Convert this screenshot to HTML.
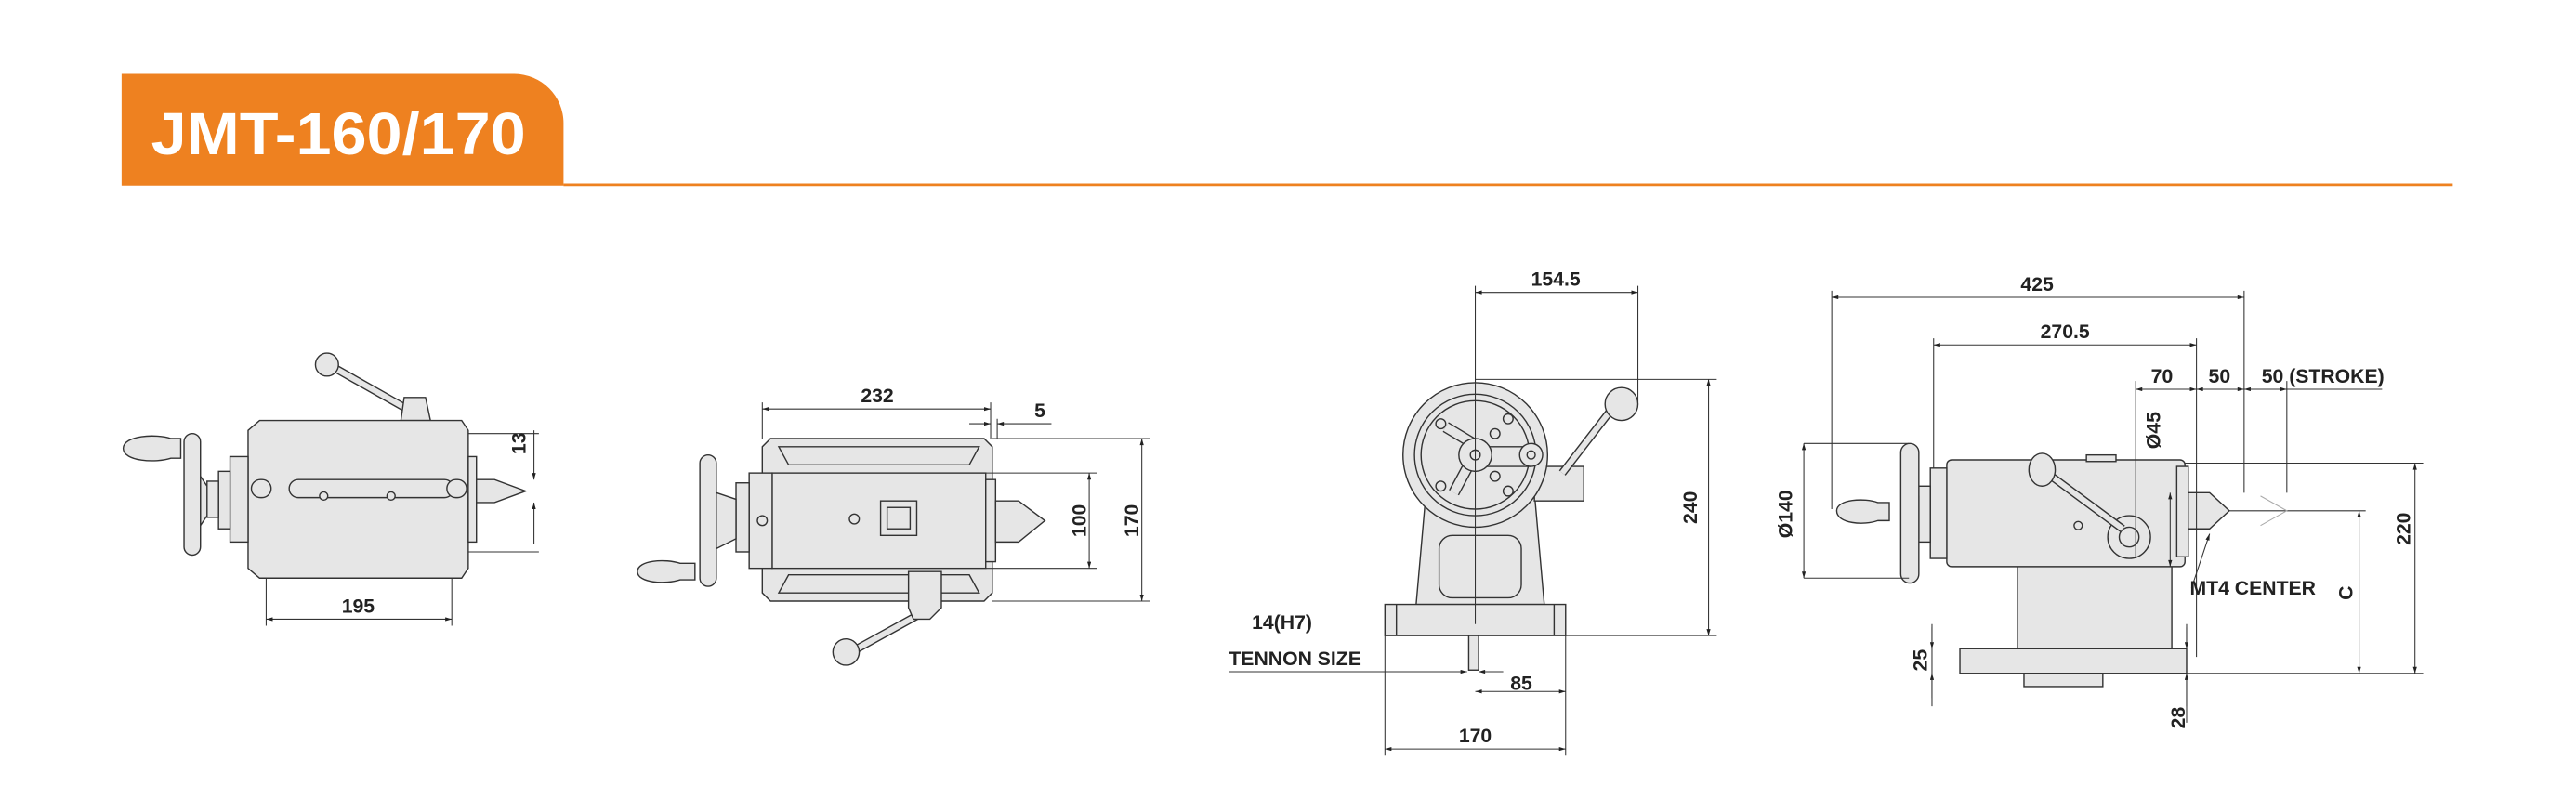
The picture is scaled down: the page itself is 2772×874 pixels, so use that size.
<!DOCTYPE html>
<html><head><meta charset="utf-8"><style>
html,body{margin:0;padding:0;background:#fff;width:2772px;height:874px;overflow:hidden}
svg{display:block}
text{font-family:"Liberation Sans",sans-serif;font-weight:bold;fill:#222}
</style></head><body>
<svg width="2772" height="874" viewBox="0 0 1568 494.4" xmlns="http://www.w3.org/2000/svg">
<defs>
<marker id="a" viewBox="0 0 10 6" refX="10" refY="3" markerWidth="7" markerHeight="4" orient="auto-start-reverse"><path d="M0,0L10,3L0,6z" fill="#222"/></marker>
</defs>
<!-- header -->
<path d="M74,45 H313 A30,30 0 0 1 343,75 V113 H74 Z" fill="#ee8120"/>
<line x1="343" y1="112.5" x2="1493" y2="112.5" stroke="#ee8120" stroke-width="1.5"/>
<text x="92" y="94" font-size="36" textLength="228" lengthAdjust="spacingAndGlyphs" style="fill:#fff">JMT-160/170</text>

<g stroke="#333" stroke-width="0.8" fill="#e6e6e6">
<!-- VIEW 1 -->
<path d="M200,222 L246,248" stroke-width="5" stroke="#333"/><path d="M200,222 L246,248" stroke-width="3.4" stroke="#e6e6e6"/>
<circle cx="199" cy="222" r="7"/>
<path d="M244,256 L246,242 H259 L262,256 Z"/>
<path d="M158,256 H281 L285,262 V346 L281,352 H158 L151,346 V262 Z"/>
<rect x="140" y="278" width="11" height="52"/>
<rect x="133" y="287" width="7" height="35"/>
<rect x="126" y="293" width="7" height="22"/>
<path d="M122,290 L126,296 V314 L122,320 Z"/>
<rect x="112" y="264" width="10" height="74" rx="5"/>
<path d="M75,273 C75,265 95,264 104,267 L110,267 V279 L104,279 C95,282 75,281 75,273Z"/>
<rect x="285" y="278" width="5" height="52"/>
<path d="M290,292 H301 L320,299 L301,306 H290 Z"/>
<rect x="176" y="292" width="100" height="11" rx="5.5"/>
<rect x="153" y="292" width="12" height="11" rx="5.5"/><rect x="272" y="292" width="12" height="11" rx="5.5"/>
<circle cx="197" cy="302" r="2.5"/><circle cx="238" cy="302" r="2.5"/>
<!-- VIEW 2 -->
<path d="M469,267 H599 L604,272 V361 L599,366 H469 L464,361 V272 Z"/>
<path d="M474,272 H596 L590,283 H480 Z"/><path d="M474,361 H596 L590,350 H480 Z"/>
<rect x="470" y="288" width="130" height="58"/>
<rect x="456" y="288" width="14" height="58"/>
<rect x="448" y="294" width="8" height="42"/>
<path d="M436,300 L448,304 V328 L436,334 Z"/>
<rect x="426" y="277" width="10" height="80" rx="5"/>
<path d="M388,348 C388,341 405,340 414,343 L423,343 V353 L414,353 C405,356 388,355 388,348Z"/>
<rect x="600" y="292" width="6" height="50"/>
<path d="M606,305 H620 L636,317 L620,330 H606 Z"/>
<rect x="536" y="305" width="22" height="21"/><rect x="540" y="309" width="14" height="13"/>
<circle cx="520" cy="316" r="3"/><circle cx="464" cy="317" r="3"/>
<path d="M558,375 L518,397" stroke-width="5"/><path d="M558,375 L518,397" stroke-width="3.4" stroke="#e6e6e6"/>
<circle cx="515" cy="397" r="8"/>
<path d="M553,348 H573 V370 L566,377 H556 L553,370 Z"/>
<!-- VIEW 3 -->
<path d="M868,300 L862,368 H940 L934,300 Z"/>
<rect x="876" y="326" width="50" height="38" rx="8"/>
<rect x="843" y="368" width="110" height="19"/>
<line x1="850" y1="368" x2="850" y2="387"/><line x1="946" y1="368" x2="946" y2="387"/>
<rect x="894" y="387" width="6" height="21"/>
<rect x="934" y="284" width="30" height="21"/>
<path d="M951,288 L985,244" stroke-width="5"/><path d="M951,288 L985,244" stroke-width="3.4" stroke="#e6e6e6"/>
<circle cx="987" cy="246" r="10"/>
<circle cx="898" cy="277" r="44"/><circle cx="898" cy="277" r="37"/><circle cx="898" cy="277" r="33"/>
<path d="M880,260 L900,272 L885,300" stroke-width="7" fill="none"/><path d="M880,260 L900,272 L885,300" stroke-width="5.4" stroke="#e6e6e6" fill="none"/>
<path d="M900,272 H932 M900,284 H932" fill="none"/>
<circle cx="898" cy="277" r="10"/><circle cx="898" cy="277" r="3"/>
<circle cx="932" cy="277" r="7"/><circle cx="932" cy="277" r="2.5"/>
<circle cx="910" cy="264" r="3"/><circle cx="910" cy="290" r="3"/><circle cx="918" cy="255" r="3"/><circle cx="918" cy="299" r="3"/><circle cx="877" cy="258" r="3"/><circle cx="877" cy="296" r="3"/>
<!-- VIEW 4 -->
<rect x="1193" y="395" width="138" height="15"/>
<rect x="1232" y="410" width="48" height="8"/>
<path d="M1237,335 H1322 V395 H1228 V345 Z"/>
<rect x="1185" y="280" width="145" height="65" rx="3"/>
<rect x="1175" y="285" width="10" height="55"/>
<rect x="1168" y="296" width="7" height="34"/>
<path d="M1163,300 L1168,302 V328 L1163,330 Z"/>
<rect x="1157" y="270" width="11" height="85" rx="5.5"/>
<path d="M1118,311 C1118,304 1135,303 1143,306 L1150,306 V317 L1143,317 C1135,320 1118,319 1118,311Z"/>
<rect x="1325" y="284" width="7" height="55"/>
<path d="M1332,300 H1345 L1357,311 L1345,322 H1332 Z"/>
<rect x="1270" y="277" width="18" height="4"/>
<circle cx="1296" cy="327" r="13"/><circle cx="1296" cy="327" r="6"/>
<path d="M1246,288 L1292,322" stroke-width="5"/><path d="M1246,288 L1292,322" stroke-width="3.4" stroke="#e6e6e6"/>
<ellipse cx="1243" cy="286" rx="8" ry="10"/>
<circle cx="1265" cy="320" r="2.5"/>
</g>

<!-- dimension lines -->
<g stroke="#333" stroke-width="0.6" fill="none">
<path d="M285,264 H328 M285,336 H328"/>
<line x1="325" y1="262" x2="325" y2="292" marker-end="url(#a)"/><line x1="325" y1="331" x2="325" y2="306" marker-end="url(#a)"/>
<path d="M162,352 V381 M275,352 V381"/>
<line x1="162" y1="377" x2="275" y2="377" marker-start="url(#a)" marker-end="url(#a)"/>
<path d="M464,267 V245 M603,267 V245 M607,267 V255"/>
<line x1="464" y1="249" x2="603" y2="249" marker-start="url(#a)" marker-end="url(#a)"/>
<line x1="590" y1="258" x2="603" y2="258" marker-end="url(#a)"/><line x1="640" y1="258" x2="607" y2="258" marker-end="url(#a)"/>
<path d="M600,288 H668 M600,346 H668 M604,267 H700 M604,366 H700"/>
<line x1="663" y1="288" x2="663" y2="346" marker-start="url(#a)" marker-end="url(#a)"/>
<line x1="695" y1="267" x2="695" y2="366" marker-start="url(#a)" marker-end="url(#a)"/>
<path d="M898,174 V380 M997,174 V245"/>
<line x1="898" y1="178" x2="997" y2="178" marker-start="url(#a)" marker-end="url(#a)"/>
<path d="M898,231 H1045 M953,387 H1045"/>
<line x1="1040" y1="231" x2="1040" y2="387" marker-start="url(#a)" marker-end="url(#a)"/>
<line x1="748" y1="409" x2="893" y2="409" marker-end="url(#a)"/><line x1="915" y1="409" x2="900" y2="409" marker-end="url(#a)"/>
<path d="M843,387 V460 M953,387 V460"/>
<line x1="898" y1="421" x2="953" y2="421" marker-start="url(#a)" marker-end="url(#a)"/>
<line x1="843" y1="456" x2="953" y2="456" marker-start="url(#a)" marker-end="url(#a)"/>
<path d="M1115,177 V310 M1366,177 V300 M1177,206 V285 M1337,206 V400 M1300,232 V340 M1392,232 V300"/>
<line x1="1115" y1="181" x2="1366" y2="181" marker-start="url(#a)" marker-end="url(#a)"/>
<line x1="1177" y1="210" x2="1337" y2="210" marker-start="url(#a)" marker-end="url(#a)"/>
<line x1="1300" y1="237" x2="1337" y2="237" marker-start="url(#a)" marker-end="url(#a)"/>
<line x1="1337" y1="237" x2="1366" y2="237" marker-start="url(#a)" marker-end="url(#a)"/>
<line x1="1366" y1="237" x2="1392" y2="237" marker-start="url(#a)" marker-end="url(#a)"/>
<path d="M1392,237 H1450"/>
<line x1="1321" y1="300" x2="1321" y2="345" marker-start="url(#a)" marker-end="url(#a)"/>
<path d="M1098,270 H1162 M1098,352 H1162"/>
<line x1="1098" y1="270" x2="1098" y2="352" marker-start="url(#a)" marker-end="url(#a)"/>
<path d="M1330,282 H1475 M1357,311 H1440 M1193,410 H1475"/>
<line x1="1436" y1="311" x2="1436" y2="410" marker-start="url(#a)" marker-end="url(#a)"/>
<line x1="1470" y1="282" x2="1470" y2="410" marker-start="url(#a)" marker-end="url(#a)"/>
<path d="M1176,380 V430 M1331,380 V440"/>
<line x1="1176" y1="382" x2="1176" y2="395" marker-end="url(#a)"/><line x1="1176" y1="425" x2="1176" y2="410" marker-end="url(#a)"/>
<line x1="1331" y1="382" x2="1331" y2="395" marker-end="url(#a)"/><line x1="1331" y1="430" x2="1331" y2="410" marker-end="url(#a)"/>
<line x1="1334" y1="358" x2="1345" y2="325" marker-end="url(#a)"/>
<path d="M1376,302 L1392,311 L1376,320" stroke="#aaa"/>
</g>

<g font-size="12">
<text x="218" y="373" text-anchor="middle">195</text>
<text transform="translate(320,270) rotate(-90)" text-anchor="middle">13</text>
<text x="534" y="245" text-anchor="middle">232</text>
<text x="633" y="254" text-anchor="middle">5</text>
<text transform="translate(661,317) rotate(-90)" text-anchor="middle">100</text>
<text transform="translate(693,317) rotate(-90)" text-anchor="middle">170</text>
<text x="947" y="174" text-anchor="middle">154.5</text>
<text transform="translate(1033,309) rotate(-90)" text-anchor="middle">240</text>
<text x="762" y="383">14(H7)</text>
<text x="748" y="405">TENNON SIZE</text>
<text x="926" y="420" text-anchor="middle">85</text>
<text x="898" y="452" text-anchor="middle">170</text>
<text x="1240" y="177" text-anchor="middle">425</text>
<text x="1257" y="206" text-anchor="middle">270.5</text>
<text x="1316" y="233" text-anchor="middle">70</text>
<text x="1351" y="233" text-anchor="middle">50</text>
<text x="1414" y="233" text-anchor="middle">50 (STROKE)</text>
<text transform="translate(1315,262) rotate(-90)" text-anchor="middle">Ø45</text>
<text transform="translate(1091,313) rotate(-90)" text-anchor="middle">Ø140</text>
<text x="1333" y="362">MT4 CENTER</text>
<text transform="translate(1432,361) rotate(-90)" text-anchor="middle">C</text>
<text transform="translate(1467,322) rotate(-90)" text-anchor="middle">220</text>
<text transform="translate(1173,402) rotate(-90)" text-anchor="middle">25</text>
<text transform="translate(1330,437) rotate(-90)" text-anchor="middle">28</text>
</g>
</svg>
</body></html>
